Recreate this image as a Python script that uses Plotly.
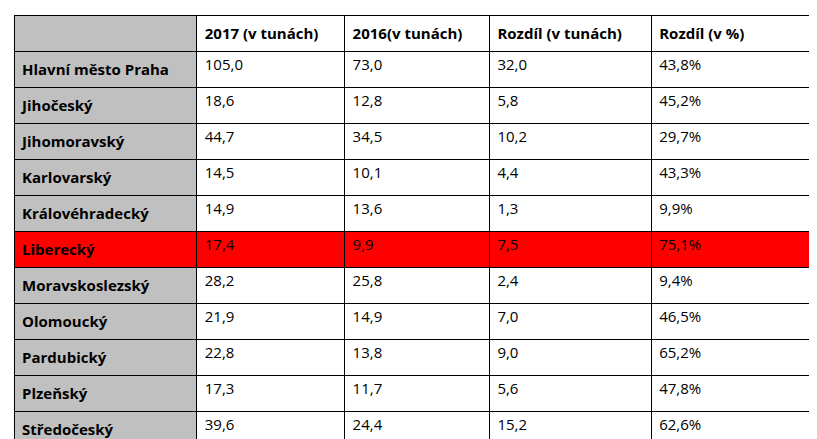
import plotly.graph_objects as go

regions = ["Hlavní město Praha", "Jihočeský", "Jihomoravský", "Karlovarský", "Královéhradecký",
           "Liberecký", "Moravskoslezský", "Olomoucký", "Pardubický", "Plzeňský",
           "Středočeský", "Ústecký", "Vysočina", "Zlínský"]
y2017 = ["105,0", "18,6", "44,7", "14,5", "14,9", "17,4", "28,2", "21,9", "22,8", "17,3", "39,6", "25,6", "17,7", "23,3"]
y2016 = ["73,0", "12,8", "34,5", "10,1", "13,6", "9,9", "25,8", "14,9", "13,8", "11,7", "24,4", "18,1", "8,5", "14,0"]
diff_t = ["32,0", "5,8", "10,2", "4,4", "1,3", "7,5", "2,4", "7,0", "9,0", "5,6", "15,2", "7,5", "9,2", "9,3"]
diff_pct = ["43,8%", "45,2%", "29,7%", "43,3%", "9,9%", "75,1%", "9,4%", "46,5%", "65,2%", "47,8%",
            "62,6%", "41,6%", "107,9%", "66,3%"]
headers = ["", "2017 (v tunách)", "2016(v tunách)", "Rozdíl (v tunách)", "Rozdíl (v %)"]
highlight = ["Liberecký", "Vysočina", "Zlínský"]

red = "#ff0000"
first_col_fill = [red if r in highlight else "#c0c0c0" for r in regions]
other_fill = [red if r in highlight else "white" for r in regions]

fig = go.Figure(go.Table(
    columnwidth=[183, 148, 145, 162, 169],
    header=dict(
        values=["<b>%s</b>" % h for h in headers],
        fill_color=["#c0c0c0", "white", "white", "white", "white"],
        line_color="black", line_width=1,
        align="left", height=23,
        font=dict(family="Open Sans", size=15, color="black"),
    ),
    cells=dict(
        values=[["<b>%s</b>" % r for r in regions], y2017, y2016, diff_t, diff_pct],
        fill_color=[first_col_fill, other_fill, other_fill, other_fill, other_fill],
        line_color="black", line_width=1,
        align="left", height=21.5,
        font=dict(family="Open Sans", size=15, color="black"),
    ),
))

fig.update_layout(width=817, height=439, margin=dict(l=6, r=5, t=7, b=0),
                  paper_bgcolor="white")
fig.write_html("out.html")
